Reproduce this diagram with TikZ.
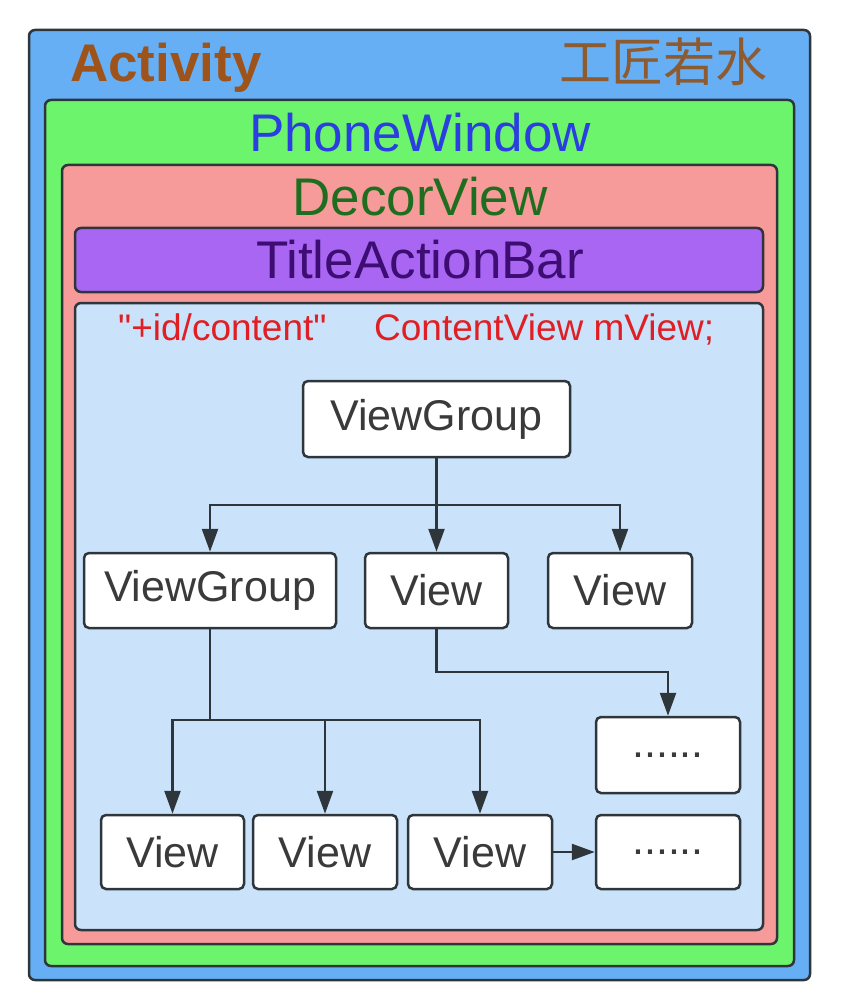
\documentclass[tikz,border=0pt]{standalone}
\usepackage{fontspec}
\setmainfont{Liberation Sans}
\newfontfamily\plainsans{Liberation Sans}
\newfontfamily\cjk{Noto Sans CJK SC}
\usetikzlibrary{arrows.meta}
\definecolor{actblue}{HTML}{66AFF5}
\definecolor{pwgreen}{HTML}{6CF56C}
\definecolor{dvred}{HTML}{F79A9A}
\definecolor{tabpurple}{HTML}{A866F2}
\definecolor{cvblue}{HTML}{CAE3FA}
\definecolor{edge}{HTML}{2E363C}
\definecolor{boxtext}{HTML}{3A3A3A}
\definecolor{acttext}{HTML}{9E531B}
\definecolor{cjktext}{HTML}{8E5A30}
\definecolor{pwtext}{HTML}{2B3FE0}
\definecolor{dvtext}{HTML}{1F6E1F}
\definecolor{tabtext}{HTML}{3D0D73}
\definecolor{redtext}{HTML}{E01F24}
\begin{document}
\begin{tikzpicture}[x=1pt,y=-1pt,
  container/.style={draw=edge,line width=2.5pt,rounded corners=6pt,inner sep=0pt,outer sep=0pt},
  viewbox/.style={draw=edge,line width=2.5pt,rounded corners=5pt,fill=white,inner sep=0pt,
    minimum height=75pt,text=boxtext,font=\fontsize{43}{43}\selectfont},
  bigtext/.style={anchor=base,inner sep=0pt,font=\fontsize{53}{53}\selectfont},
  redlabel/.style={anchor=base west,inner sep=0pt,text=redtext,font=\plainsans\fontsize{37}{37}\selectfont},
  arr/.style={draw=edge,line width=2.5pt,-{Triangle[length=23pt,width=16pt]}},
  link/.style={draw=edge,line width=2.5pt}]
\useasboundingbox[fill=white] (0,0) rectangle (846,1008);
% containers
\node[container,fill=actblue,minimum width=781pt,minimum height=950pt] (activity) at (419.5,505) {};
\node[container,fill=pwgreen,minimum width=749pt,minimum height=866pt] (phonewindow) at (419.5,533) {};
\node[container,fill=dvred,minimum width=715pt,minimum height=779pt] (decorview) at (419.5,554.5) {};
\node[container,fill=tabpurple,minimum width=688pt,minimum height=64pt] (titlebar) at (419,260) {};
\node[container,fill=cvblue,minimum width=688pt,minimum height=627pt] (content) at (419,616.5) {};
% titles
\node[anchor=base west,inner sep=0pt,text=acttext,font=\bfseries\fontsize{53}{53}\selectfont] (acttitle) at (70,82) {Activity};
\node[anchor=base east,inner sep=0pt,text=cjktext,font=\cjk\fontsize{52}{52}\selectfont] (brand) at (768,82) {工匠若水};
\node[bigtext,text=pwtext] (pwtitle) at (420,152) {PhoneWindow};
\node[bigtext,text=dvtext] (dvtitle) at (420,216) {DecorView};
\node[bigtext,text=tabtext] (tabtitle) at (420,278) {TitleActionBar};
\node[redlabel] (idlabel) at (118,340) {"+id/content"};
\node[redlabel] (cvlabel) at (374,340) {ContentView mView;};
% view tree
\node[viewbox,minimum width=267pt,minimum height=76pt] (vg0) at (436.5,419) {ViewGroup};
\node[viewbox,minimum width=252pt] (vg1) at (210,590.5) {ViewGroup};
\node[viewbox,minimum width=143pt] (view1) at (436.5,590.5) {View};
\node[viewbox,minimum width=144pt] (view2) at (620,590.5) {View};
\node[viewbox,minimum width=144pt,minimum height=76pt] (dots1) at (668,755) {......};
\node[viewbox,minimum width=143pt,minimum height=74pt] (v1) at (172.5,852) {View};
\node[viewbox,minimum width=144pt,minimum height=74pt] (v2) at (325,852) {View};
\node[viewbox,minimum width=144pt,minimum height=74pt] (v3) at (480,852) {View};
\node[viewbox,minimum width=144pt,minimum height=74pt] (dots2) at (668,852) {......};
% connectors
\coordinate (bus1) at (436.5,505);
\coordinate (bend1) at (436.5,672);
\coordinate (bus2) at (210,720);
\draw[arr] (vg0.south) -- (view1.north);
\draw[arr] (bus1) -| (vg1.north);
\draw[arr] (bus1) -| (view2.north);
\draw[arr] (view1.south) -- (bend1) -| (dots1.north);
\draw[link] (vg1.south) -- (bus2);
\draw[arr] (bus2) -| (v1.north);
\draw[arr] (bus2) -| (v2.north);
\draw[arr] (bus2) -| (v3.north);
\draw[arr] (v3.east) -- (dots2.west);
\end{tikzpicture}
\end{document}
